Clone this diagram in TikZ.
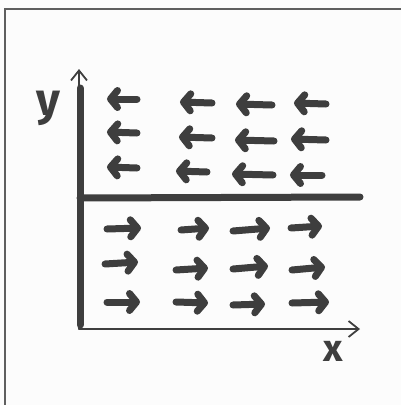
\documentclass[tikz,border=0pt]{standalone}
\usepackage{fontspec}
\setsansfont{Fira Sans}
\usetikzlibrary{arrows.meta}
\definecolor{ink}{RGB}{62,62,62}
\definecolor{frame}{RGB}{95,95,95}
\definecolor{paper}{RGB}{252,252,252}
\tikzset{
  fat/.style={ink, line width=7pt, line cap=round, line join=round,
    -{Straight Barb[length=7pt,width=17pt,line cap=round,line join=round]}},
  thinaxis/.style={ink, line width=1.6pt, line cap=round,
    -{Straight Barb[length=10pt,width=16pt,line width=1.8pt]}},
  heavy/.style={ink, line width=7pt, line cap=round},
  lbl/.style={ink, font=\sffamily\bfseries\fontsize{46}{46}\selectfont, inner sep=0pt}
}
\begin{document}
\begin{tikzpicture}[x=1pt,y=-1pt]
\useasboundingbox (0,0) rectangle (401,405);
\clip (0,0) rectangle (401,405);
\fill[paper] (0,0) rectangle (401,405);
\draw[frame, line width=1.2pt] (5,420) -- (5,9) -- (420,9);
% axes
\coordinate (O) at (79,329);
\coordinate (ytop) at (79,69);
\coordinate (xend) at (360,329);
\draw[thinaxis] (O) -- (ytop);
\draw[thinaxis] (O) -- (xend);
\coordinate (v1) at (80,88);
\coordinate (v2) at (80,325);
\draw[heavy] (v1) -- (v2);
\coordinate (h1) at (80,198);
\coordinate (h2) at (360,197);
\draw[heavy] (h1) -- (h2);
\node[lbl, anchor=north] (ylab) at (48,91) {y};
\node[lbl, font=\sffamily\bfseries\fontsize{38}{38}\selectfont, anchor=north] (xlab) at (333,341) {x};
% left-pointing arrows
\foreach \a/\b/\c/\d in {
  137/99/107/99, 212/103/180/102, 272/105/236/104, 326/104/294/103,
  137/133/107/132, 212/138/179/137, 274/141/235/140, 326/140/291/139,
  137/168/107/167, 207/172/176/171, 273/175/232/174, 322/175/290/175}
  \draw[fat] (\a,\b) -- (\c,\d);
% right-pointing arrows
\foreach \a/\b/\c/\d in {
  107/229/141/228, 181/230/209/228, 233/231/270/228, 291/228/322/226,
  105/264/138/262, 176/270/208/268, 233/269/268/266, 292/270/325/267,
  107/302/140/302, 176/302/208/303, 233/305/265/304, 292/303/329/302}
  \draw[fat] (\a,\b) -- (\c,\d);
\end{tikzpicture}
\end{document}
